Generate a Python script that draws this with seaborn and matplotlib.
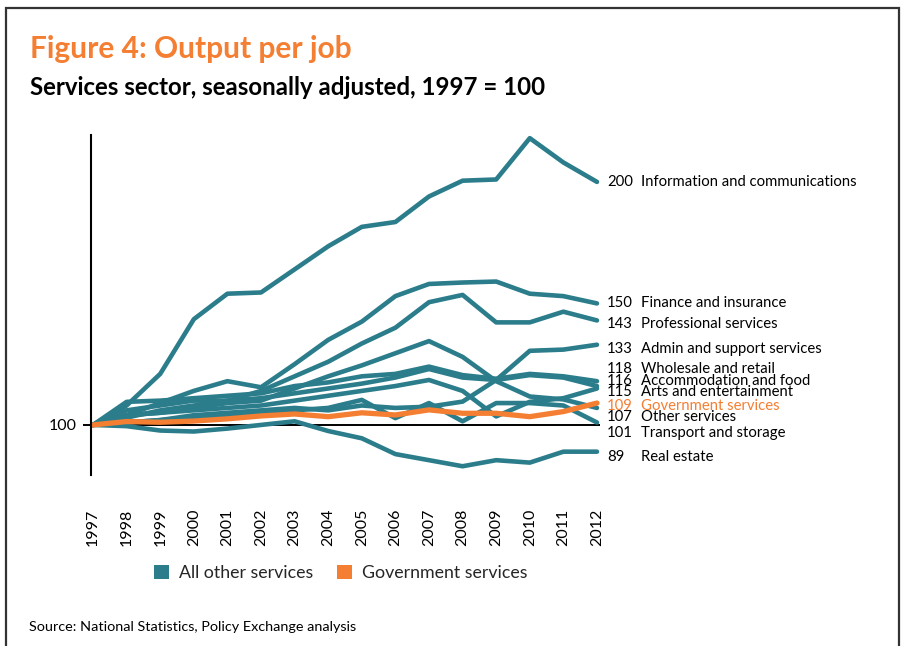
import matplotlib
matplotlib.use("Agg")
import matplotlib.pyplot as plt
from matplotlib.patches import Patch, Rectangle
import numpy as np
import pandas as pd
import seaborn as sns

# ---- data: output per job index, 1997 = 100 ----
years = list(range(1997, 2013))

info_comms    = [100, 108, 121, 143.5, 154, 154.5, 164, 173.5, 181.5, 183.5, 194, 200.5, 201, 218, 208, 200]
finance       = [100, 104, 109, 114, 118, 115.5, 125, 135, 142.5, 153, 158, 158.6, 159, 154, 153, 150]
professional  = [100, 103, 106, 108, 110, 114, 120, 126, 133.5, 140, 150.5, 153.5, 142.2, 142.2, 146.6, 143]
admin_support = [100, 101, 102, 104, 105, 106, 107, 106, 108, 107, 107.5, 109.6, 118.5, 130.5, 131, 133]
wholesale     = [100, 109.5, 110, 111, 112, 113, 116, 117.5, 120, 121, 124, 120.5, 119, 121, 120, 118]
accommodation = [100, 106, 108, 110, 110, 111, 113, 115, 117, 119.5, 123, 119.5, 118.5, 120.5, 119.5, 116]
arts          = [100, 104, 105, 106, 107, 108, 110, 112, 114, 116, 118.5, 114, 103.5, 109.5, 111, 115]
government    = [100, 101.4, 101.1, 101.6, 102.5, 103.7, 104.5, 103.4, 105, 104.1, 106.2, 104.8, 104.8, 103.4, 105.5, 109]
other         = [100, 104, 105, 107, 109, 110, 115, 120, 124.5, 129.5, 134.5, 128, 118, 111.7, 110.5, 107]
transport     = [100, 101, 102, 103, 104, 105, 106, 107, 110.3, 102.8, 109, 101.5, 109, 109, 108, 101]
real_estate   = [100, 99.5, 97.7, 97.3, 98.5, 100, 101.5, 97.5, 94.5, 88, 85.5, 83, 85.5, 84.5, 89, 89]

series_names = [
    "Information and communications", "Finance and insurance", "Professional services",
    "Admin and support services", "Wholesale and retail", "Accommodation and food",
    "Arts and entertainment", "Other services", "Transport and storage", "Real estate",
    "Government services",
]
series_values = [
    info_comms, finance, professional, admin_support, wholesale, accommodation,
    arts, other, transport, real_estate, government,
]

legend_labels = ["All other services", "Government services"]

TEAL = "#2C7D8B"
ORANGE = "#F47E32"

df = pd.DataFrame(
    [(name, y, v) for name, vals in zip(series_names, series_values) for y, v in zip(years, vals)],
    columns=["series", "year", "value"],
)
palette = {n: (ORANGE if n == "Government services" else TEAL) for n in series_names}

sns.set_theme(style="white")
plt.rcParams["font.family"] = ["Lato", "DejaVu Sans"]

fig = plt.figure(figsize=(9.01, 6.46), dpi=100)
ax = fig.add_axes([91 / 901, 1 - 475 / 646, 509 / 901, 340 / 646])

sns.lineplot(
    data=df[df.series != "Government services"], x="year", y="value", hue="series",
    palette=palette, estimator=None, sort=False, linewidth=3.3, legend=False, ax=ax,
)
ax.axhline(100, color="black", lw=1.4, zorder=1)
sns.lineplot(
    data=df[df.series == "Government services"], x="year", y="value", hue="series",
    palette=palette, estimator=None, sort=False, linewidth=3.8, legend=False, ax=ax,
)

ax.set_xlim(1996.94, 2012.09)
ax.set_ylim(79.4, 219.3)
ax.set_xlabel("")
ax.set_ylabel("")
ax.set_xticks(years)
ax.set_xticklabels([str(y) for y in years], rotation=90, fontsize=11.5, color="black")
ax.tick_params(axis="x", length=0, pad=24)
ax.set_yticks([100])
ax.set_yticklabels(["100"], fontsize=11.5, color="black")
ax.tick_params(axis="y", length=6, width=1.4, color="black", pad=4, direction="out", left=True)
for side in ("top", "right", "bottom"):
    ax.spines[side].set_visible(False)
ax.spines["left"].set_color("black")
ax.spines["left"].set_linewidth(1.5)
ax.patch.set_alpha(0)

# end-of-line labels, nudged apart where lines finish close together
label_y = {
    "Information and communications": 200, "Finance and insurance": 150.2,
    "Professional services": 141.6, "Admin and support services": 131.3,
    "Wholesale and retail": 123, "Accommodation and food": 118.1,
    "Arts and entertainment": 113.6, "Government services": 107.8,
    "Other services": 103.3, "Transport and storage": 96.7, "Real estate": 86.8,
}
for name, vals in zip(series_names, series_values):
    col = ORANGE if name == "Government services" else "black"
    yy = label_y[name]
    ax.annotate(f"{vals[-1]:.0f}", xy=(2012, yy), xytext=(10, 0), textcoords="offset pixels",
                ha="left", va="center", fontsize=10.7, color=col, annotation_clip=False)
    ax.annotate(name, xy=(2012, yy), xytext=(44, 0), textcoords="offset pixels",
                ha="left", va="center", fontsize=10.7, color=col, annotation_clip=False)

# titles
fig.text(30 / 901, 1 - 58 / 646, "Figure 4: Output per job", fontsize=21.5, fontweight="bold",
         color=ORANGE, ha="left", va="baseline")
fig.text(30 / 901, 1 - 95 / 646, "Services sector, seasonally adjusted, 1997 = 100", fontsize=17.3,
         fontweight="bold", color="black", ha="left", va="baseline")

# legend
handles = [Patch(facecolor=TEAL, edgecolor="none"), Patch(facecolor=ORANGE, edgecolor="none")]
fig.legend(handles, legend_labels, loc="center", bbox_to_anchor=(341 / 901, 1 - 573 / 646), ncol=2,
           frameon=False, fontsize=12.8, handlelength=0.85, handleheight=0.85, handletextpad=0.55,
           columnspacing=1.35)

fig.text(29 / 901, 1 - 627 / 646, "Source: National Statistics, Policy Exchange analysis",
         fontsize=10.4, color="black", ha="left", va="center")

# outer frame (open at the bottom)
fig.patches.append(Rectangle((6 / 901, -0.05), 893 / 901, 1.05 - 8 / 646, transform=fig.transFigure,
                             fill=False, edgecolor="#333333", lw=1.6))

fig.savefig("out.png", dpi=100)
